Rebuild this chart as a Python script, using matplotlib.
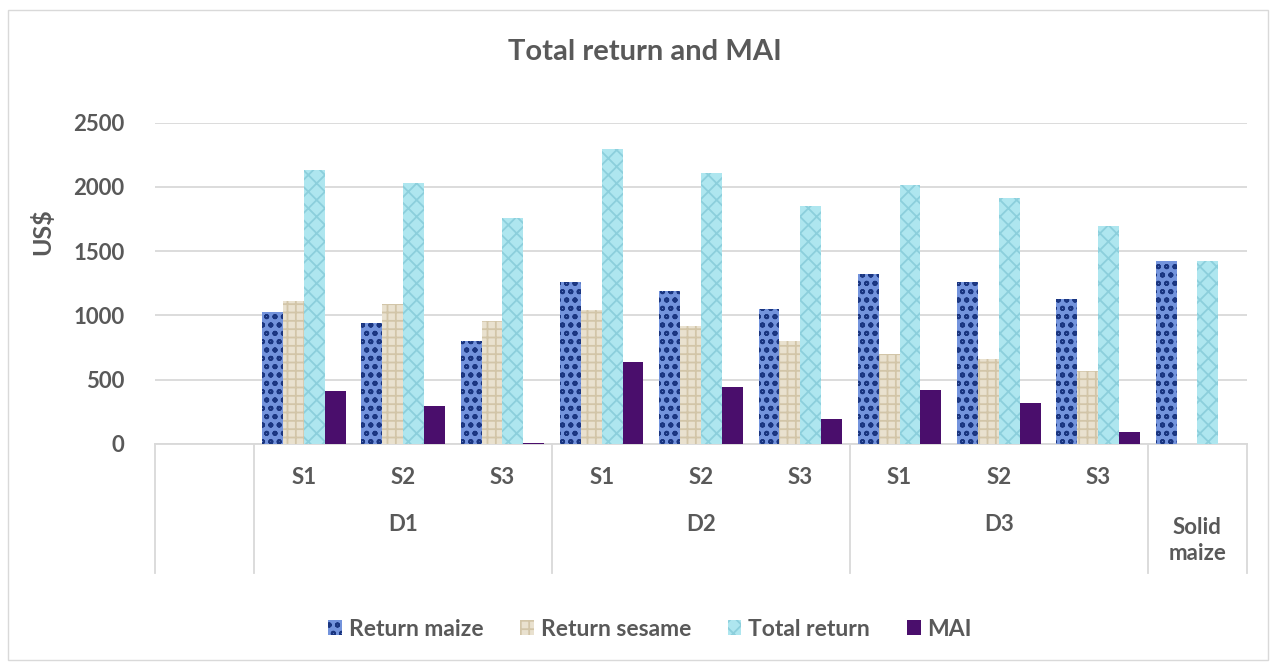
import numpy as np
import matplotlib
matplotlib.use("Agg")
import matplotlib.pyplot as plt
from matplotlib.patches import Rectangle

plt.rcParams['font.family'] = ['Lato', 'DejaVu Sans']
plt.rcParams['hatch.linewidth'] = 1.3

# categories (first slot is the blank one Excel leaves on the axis)
inner_labels = ["", "S1", "S2", "S3", "S1", "S2", "S3", "S1", "S2", "S3", ""]
outer_groups = [("D1", 1, 3), ("D2", 4, 6), ("D3", 7, 9), ("Solid\nmaize", 10, 10)]

return_maize = [0, 1025, 942, 802, 1258, 1191, 1051, 1321, 1258, 1128, 1424]
return_sesame = [0, 1110, 1087, 957, 1043, 921, 802, 698, 661, 568, 0]
total_return = [0, 2132, 2029, 1759, 2296, 2107, 1855, 2018, 1914, 1699, 1424]
mai = [0, 415, 293, 10, 638, 446, 197, 420, 317, 91, 0]

series_names = ["Return maize", "Return sesame", "Total return", "MAI"]

W, H = 1279, 664
fig = plt.figure(figsize=(W / 100, H / 100), dpi=100)
txt = '#595959'
grid = '#d9d9d9'

# outer chart border
fig.patches.append(Rectangle((8 / W, 4 / H), 1260 / W, 650 / H, transform=fig.transFigure,
                             fill=False, edgecolor=grid, lw=1))

ax = fig.add_axes([155 / W, (H - 444) / H, 1092 / W, 321.3 / H])
x = np.arange(len(inner_labels))
bw = 0.21
styles = [
    dict(color='#7393dc', edgecolor='#1a3580', hatch='oo'),
    dict(color='#e9e1cf', edgecolor='#d2c5a8', hatch='++'),
    dict(color='#aee6ef', edgecolor='#8ccfdc', hatch='xx'),
    dict(color='#4a0e6c', edgecolor='#4a0e6c', hatch=None),
]
handles = []
for i, (vals, st) in enumerate(zip([return_maize, return_sesame, total_return, mai], styles)):
    b = ax.bar(x + (i - 1.5) * bw, vals, bw, color=st['color'], edgecolor=st['edgecolor'],
               hatch=st['hatch'], linewidth=0, label=series_names[i], zorder=3)
    handles.append(b)

ax.set_xlim(-0.5, len(inner_labels) - 0.5)
ax.set_ylim(0, 2500)
ax.set_yticks(range(0, 2501, 500))
ax.yaxis.grid(True, color=grid, lw=1.3)
ax.set_axisbelow(True)
for s in ['top', 'right', 'left']:
    ax.spines[s].set_visible(False)
ax.spines['bottom'].set_color(grid)
ax.spines['bottom'].set_linewidth(1.3)
ax.set_xticks([])
ax.tick_params(axis='y', length=0, pad=22, labelsize=16, labelcolor=txt)
for t in ax.get_yticklabels():
    t.set_fontweight('bold')

tr = ax.get_xaxis_transform()
for xi, lab in zip(x, inner_labels):
    if lab:
        ax.text(xi, -0.103, lab, transform=tr, ha='center', va='center',
                fontsize=16, fontweight='bold', color=txt)
for name, a, b in outer_groups:
    if '\n' in name:
        ax.text((a + b) / 2, -0.30, name, transform=tr, ha='center', va='center',
                fontsize=16, fontweight='bold', color=txt, linespacing=1.3)
    else:
        ax.text((a + b) / 2, -0.252, name, transform=tr, ha='center', va='center',
                fontsize=16, fontweight='bold', color=txt)

# group separator lines below the axis
for xb in [-0.5, 0.5, 3.5, 6.5, 9.5, 10.5]:
    ax.plot([xb, xb], [0, -0.401], transform=tr, color=grid, lw=1.3, clip_on=False)

fig.text(645 / W, 1 - 52 / H, "Total return and MAI", ha='center', va='center',
         fontsize=21, fontweight='bold', color=txt)
fig.text(42 / W, 1 - 232 / H, "US$", ha='center', va='center', rotation=90,
         fontsize=18, fontweight='bold', color=txt)

leg = fig.legend(handles=handles, labels=series_names, loc='center',
                 bbox_to_anchor=(650 / W, 1 - 629 / H), ncol=4, frameon=False,
                 handlelength=0.6, handleheight=0.6, handletextpad=0.3,
                 columnspacing=1.6, prop={'size': 16.5, 'weight': 'bold'})
for t in leg.get_texts():
    t.set_color(txt)

fig.savefig("out.png", dpi=100)
